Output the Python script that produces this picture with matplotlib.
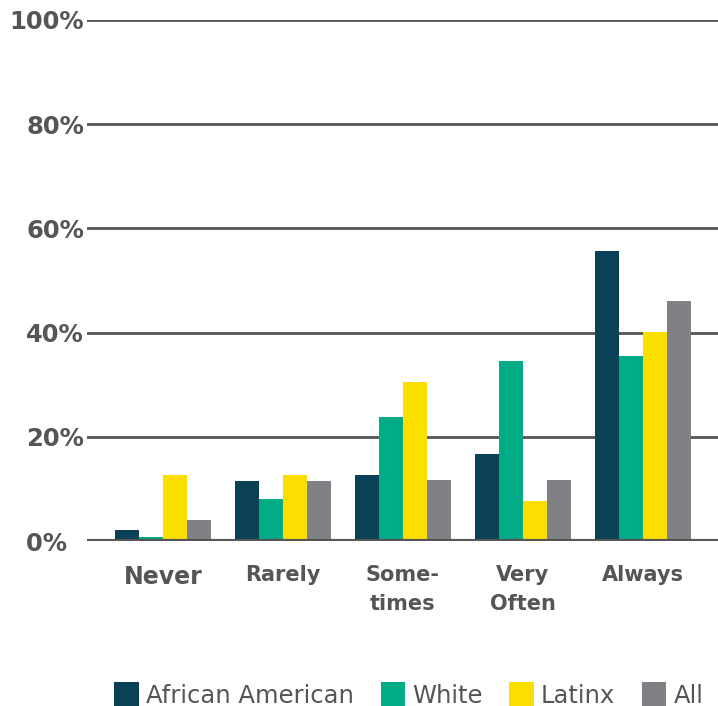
import matplotlib
matplotlib.use('Agg')
import matplotlib.pyplot as plt
import numpy as np

categories = ['Never', 'Rarely', 'Some-\ntimes', 'Very\nOften', 'Always']
series = ['African American', 'White', 'Latinx', 'All']
african_american = [2.1, 11.5, 12.7, 16.7, 55.7]
white = [0.7, 8.1, 23.8, 34.5, 35.5]
latinx = [12.7, 12.7, 30.5, 7.7, 40.2]
all_groups = [4.0, 11.5, 11.7, 11.7, 46.1]
colors = ['#0a4157', '#00ab86', '#fcde00', '#808184']
yticks = [0, 20, 40, 60, 80, 100]
ytick_labels = ['0%  ', '20%', '40%', '60%', '80%', '100%']

TXT = '#555555'

fig = plt.figure(figsize=(7.18, 7.06), dpi=100)
ax = fig.add_axes([0.121, 0.2337, 0.879, 0.738])

x = np.arange(len(categories))
w = 0.2
for i, (vals, name) in enumerate(zip([african_american, white, latinx, all_groups], series)):
    ax.bar(x + (i - 1.5) * w, vals, width=w, color=colors[i], label=name, zorder=2)

ax.set_xlim(-0.633, 4.625)
ax.set_ylim(0, 100)
ax.set_yticks(yticks)
ax.set_yticklabels(ytick_labels)
ax.yaxis.grid(True, color=TXT, linewidth=2)
ax.set_axisbelow(True)
ax.axhline(0, color=TXT, linewidth=3, zorder=3)
for s in ax.spines.values():
    s.set_visible(False)
ax.tick_params(axis='y', length=0, pad=2, labelsize=17.5, labelcolor=TXT)
ax.tick_params(axis='x', length=0, pad=17, labelsize=15, labelcolor=TXT)
for t in ax.get_yticklabels():
    t.set_fontweight('bold')

ax.set_xticks(x)
ax.set_xticklabels(categories, fontweight='bold', linespacing=1.6)
ax.get_xticklabels()[0].set_fontsize(17)

fig.legend(loc='lower right', bbox_to_anchor=(1.0, -0.024), ncol=4, frameon=False,
           fontsize=17.5, labelcolor=TXT, handlelength=1.0, handleheight=1.3,
           handletextpad=0.3, columnspacing=1.1, borderaxespad=0.2)

fig.savefig('out.png', dpi=100)
